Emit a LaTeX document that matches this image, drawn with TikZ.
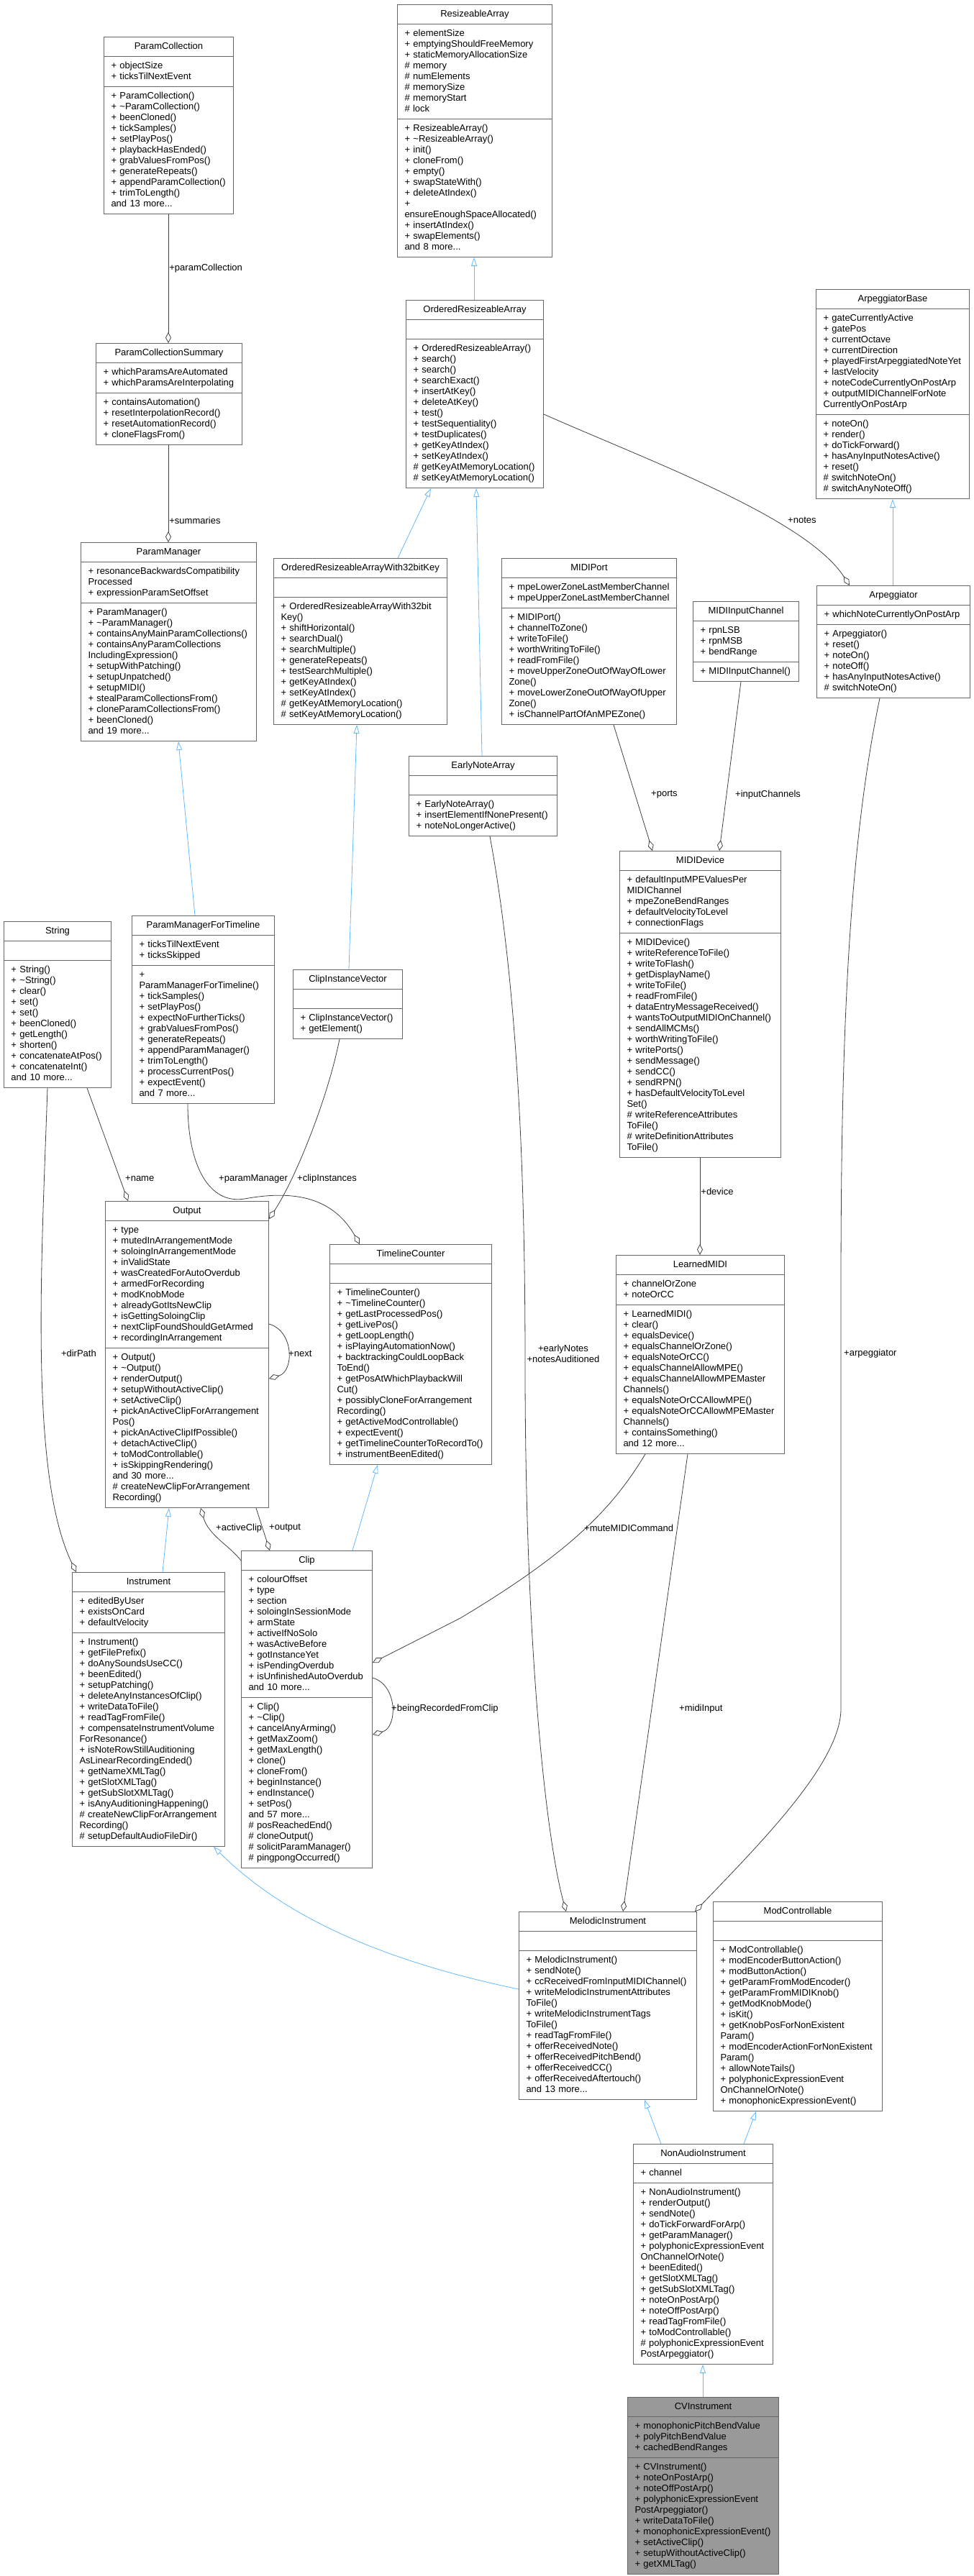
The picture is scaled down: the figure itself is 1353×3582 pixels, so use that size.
\documentclass[tikz,border=0pt]{standalone}
\usepackage{fontspec}
\setmainfont{Liberation Sans}
\usetikzlibrary{shapes.multipart,arrows.meta,calc}
\definecolor{edgeblue}{RGB}{99,184,255}
\definecolor{edgegray}{RGB}{64,64,64}
\definecolor{boxgray}{RGB}{102,102,102}
\definecolor{cvfill}{RGB}{153,153,153}
\tikzset{
  cbox/.style={rectangle split, rectangle split parts=3, draw=boxgray, line width=1pt,
    inner xsep=10pt, inner ysep=5.5pt, anchor=north west, fill=white,
    font=\fontsize{13}{15}\selectfont},
  agg/.style={draw=edgegray, line width=0.8pt, -{Diamond[open,length=15pt,width=8pt]}},
  inh/.style={draw=edgeblue, line width=0.8pt, -{Triangle[open,length=12pt,width=8pt]}},
  lbl/.style={font=\fontsize{13}{15}\selectfont, inner sep=1pt}
}
\newcommand\cls[7]{\node[cbox,text width={#3pt-20pt},#7] (#1) at (#2) {\centering\strut #4\strut\par\nodepart{two}\raggedright\strut #5\strut\par\nodepart{three}\raggedright\strut #6\strut\par};}
\newcommand\tl{\textasciitilde}
\begin{document}
\begin{tikzpicture}[x=1pt,y=-1pt]
\useasboundingbox (0,0) rectangle (1353,3582);
\cls{PC}{144,51}{180}{ParamCollection}{+ objectSize\\+ ticksTilNextEvent}{+ ParamCollection()\\+ \tl ParamCollection()\\+ beenCloned()\\+ tickSamples()\\+ setPlayPos()\\+ playbackHasEnded()\\+ grabValuesFromPos()\\+ generateRepeats()\\+ appendParamCollection()\\+ trimToLength()\\and 13 more...}{}
\cls{RA}{552,6}{215}{ResizeableArray}{+ elementSize\\+ emptyingShouldFreeMemory\\+ staticMemoryAllocationSize\\\# memory\\\# numElements\\\# memorySize\\\# memoryStart\\\# lock}{+ ResizeableArray()\\+ \tl ResizeableArray()\\+ init()\\+ cloneFrom()\\+ empty()\\+ swapStateWith()\\+ deleteAtIndex()\\+ ensureEnoughSpaceAllocated()\\+ insertAtIndex()\\+ swapElements()\\and 8 more...}{}
\cls{PCS}{133,477}{203}{ParamCollectionSummary}{+ whichParamsAreAutomated\\+ whichParamsAreInterpolating}{+ containsAutomation()\\+ resetInterpolationRecord()\\+ resetAutomationRecord()\\+ cloneFlagsFrom()}{}
\cls{ORA}{564,417}{191}{OrderedResizeableArray}{}{+ OrderedResizeableArray()\\+ search()\\+ search()\\+ searchExact()\\+ insertAtKey()\\+ deleteAtKey()\\+ test()\\+ testSequentiality()\\+ testDuplicates()\\+ getKeyAtIndex()\\+ setKeyAtIndex()\\\# getKeyAtMemoryLocation()\\\# setKeyAtMemoryLocation()}{}
\cls{AB}{1134,402}{213}{ArpeggiatorBase}{+ gateCurrentlyActive\\+ gatePos\\+ currentOctave\\+ currentDirection\\+ playedFirstArpeggiatedNoteYet\\+ lastVelocity\\+ noteCodeCurrentlyOnPostArp\\+ outputMIDIChannelForNote\\CurrentlyOnPostArp}{+ noteOn()\\+ render()\\+ doTickForward()\\+ hasAnyInputNotesActive()\\+ reset()\\\# switchNoteOn()\\\# switchAnyNoteOff()}{}
\cls{PM}{112,754}{244}{ParamManager}{+ resonanceBackwardsCompatibility\\Processed\\+ expressionParamSetOffset}{+ ParamManager()\\+ \tl ParamManager()\\+ containsAnyMainParamCollections()\\+ containsAnyParamCollections\\IncludingExpression()\\+ setupWithPatching()\\+ setupUnpatched()\\+ setupMIDI()\\+ stealParamCollectionsFrom()\\+ cloneParamCollectionsFrom()\\+ beenCloned()\\and 19 more...}{}
\cls{ORW}{380,776}{241}{OrderedResizeableArrayWith32bitKey}{}{+ OrderedResizeableArrayWith32bit\\Key()\\+ shiftHorizontal()\\+ searchDual()\\+ searchMultiple()\\+ generateRepeats()\\+ testSearchMultiple()\\+ getKeyAtIndex()\\+ setKeyAtIndex()\\\# getKeyAtMemoryLocation()\\\# setKeyAtMemoryLocation()}{}
\cls{MP}{697,776}{243}{MIDIPort}{+ mpeLowerZoneLastMemberChannel\\+ mpeUpperZoneLastMemberChannel}{+ MIDIPort()\\+ channelToZone()\\+ writeToFile()\\+ worthWritingToFile()\\+ readFromFile()\\+ moveUpperZoneOutOfWayOfLower\\Zone()\\+ moveLowerZoneOutOfWayOfUpper\\Zone()\\+ isChannelPartOfAnMPEZone()}{}
\cls{MIC}{963,836}{147}{MIDIInputChannel}{+ rpnLSB\\+ rpnMSB\\+ bendRange}{+ MIDIInputChannel()}{}
\cls{ARP}{1135,814}{213}{Arpeggiator}{+ whichNoteCurrentlyOnPostArp}{+ Arpeggiator()\\+ reset()\\+ noteOn()\\+ noteOff()\\+ hasAnyInputNotesActive()\\\# switchNoteOn()}{}
\cls{ENA}{568,1051}{206}{EarlyNoteArray}{}{+ EarlyNoteArray()\\+ insertElementIfNonePresent()\\+ noteNoLongerActive()}{}
\cls{MD}{861,1183}{224}{MIDIDevice}{+ defaultInputMPEValuesPer\\MIDIChannel\\+ mpeZoneBendRanges\\+ defaultVelocityToLevel\\+ connectionFlags}{+ MIDIDevice()\\+ writeReferenceToFile()\\+ writeToFlash()\\+ getDisplayName()\\+ writeToFile()\\+ readFromFile()\\+ dataEntryMessageReceived()\\+ wantsToOutputMIDIOnChannel()\\+ sendAllMCMs()\\+ worthWritingToFile()\\+ writePorts()\\+ sendMessage()\\+ sendCC()\\+ sendRPN()\\+ hasDefaultVelocityToLevel\\Set()\\\# writeReferenceAttributes\\ToFile()\\\# writeDefinitionAttributes\\ToFile()}{}
\cls{STR}{5,1281}{149}{String}{}{+ String()\\+ \tl String()\\+ clear()\\+ set()\\+ set()\\+ beenCloned()\\+ getLength()\\+ shorten()\\+ concatenateAtPos()\\+ concatenateInt()\\and 10 more...}{}
\cls{PMT}{183,1273}{198}{ParamManagerForTimeline}{+ ticksTilNextEvent\\+ ticksSkipped}{+ ParamManagerForTimeline()\\+ tickSamples()\\+ setPlayPos()\\+ expectNoFurtherTicks()\\+ grabValuesFromPos()\\+ generateRepeats()\\+ appendParamManager()\\+ trimToLength()\\+ processCurrentPos()\\+ expectEvent()\\and 7 more...}{}
\cls{CIV}{407,1348}{152}{ClipInstanceVector}{}{+ ClipInstanceVector()\\+ getElement()}{}
\cls{OUT}{146,1670}{227}{Output}{+ type\\+ mutedInArrangementMode\\+ soloingInArrangementMode\\+ inValidState\\+ wasCreatedForAutoOverdub\\+ armedForRecording\\+ modKnobMode\\+ alreadyGotItsNewClip\\+ isGettingSoloingClip\\+ nextClipFoundShouldGetArmed\\+ recordingInArrangement}{+ Output()\\+ \tl Output()\\+ renderOutput()\\+ setupWithoutActiveClip()\\+ setActiveClip()\\+ pickAnActiveClipForArrangement\\Pos()\\+ pickAnActiveClipIfPossible()\\+ detachActiveClip()\\+ toModControllable()\\+ isSkippingRendering()\\and 30 more...\\\# createNewClipForArrangement\\Recording()}{}
\cls{TC}{458,1730}{225}{TimelineCounter}{}{+ TimelineCounter()\\+ \tl TimelineCounter()\\+ getLastProcessedPos()\\+ getLivePos()\\+ getLoopLength()\\+ isPlayingAutomationNow()\\+ backtrackingCouldLoopBack\\ToEnd()\\+ getPosAtWhichPlaybackWill\\Cut()\\+ possiblyCloneForArrangement\\Recording()\\+ getActiveModControllable()\\+ expectEvent()\\+ getTimelineCounterToRecordTo()\\+ instrumentBeenEdited()}{}
\cls{LM}{856,1745}{234}{LearnedMIDI}{+ channelOrZone\\+ noteOrCC}{+ LearnedMIDI()\\+ clear()\\+ equalsDevice()\\+ equalsChannelOrZone()\\+ equalsNoteOrCC()\\+ equalsChannelAllowMPE()\\+ equalsChannelAllowMPEMaster\\Channels()\\+ equalsNoteOrCCAllowMPE()\\+ equalsNoteOrCCAllowMPEMaster\\Channels()\\+ containsSomething()\\and 12 more...}{}
\cls{CLIP}{335,2156}{182}{Clip}{+ colourOffset\\+ type\\+ section\\+ soloingInSessionMode\\+ armState\\+ activeIfNoSolo\\+ wasActiveBefore\\+ gotInstanceYet\\+ isPendingOverdub\\+ isUnfinishedAutoOverdub\\and 10 more...}{+ Clip()\\+ \tl Clip()\\+ cancelAnyArming()\\+ getMaxZoom()\\+ getMaxLength()\\+ clone()\\+ cloneFrom()\\+ beginInstance()\\+ endInstance()\\+ setPos()\\and 57 more...\\\# posReachedEnd()\\\# cloneOutput()\\\# solicitParamManager()\\\# pingpongOccurred()}{}
\cls{INS}{100,2186}{212}{Instrument}{+ editedByUser\\+ existsOnCard\\+ defaultVelocity}{+ Instrument()\\+ getFilePrefix()\\+ doAnySoundsUseCC()\\+ beenEdited()\\+ setupPatching()\\+ deleteAnyInstancesOfClip()\\+ writeDataToFile()\\+ readTagFromFile()\\+ compensateInstrumentVolume\\ForResonance()\\+ isNoteRowStillAuditioning\\AsLinearRecordingEnded()\\+ getNameXMLTag()\\+ getSlotXMLTag()\\+ getSubSlotXMLTag()\\+ isAnyAuditioningHappening()\\\# createNewClipForArrangement\\Recording()\\\# setupDefaultAudioFileDir()}{}
\cls{MC}{991,2644}{235}{ModControllable}{}{+ ModControllable()\\+ modEncoderButtonAction()\\+ modButtonAction()\\+ getParamFromModEncoder()\\+ getParamFromMIDIKnob()\\+ getModKnobMode()\\+ isKit()\\+ getKnobPosForNonExistent\\Param()\\+ modEncoderActionForNonExistent\\Param()\\+ allowNoteTails()\\+ polyphonicExpressionEvent\\OnChannelOrNote()\\+ monophonicExpressionEvent()}{}
\cls{MI}{721,2658}{247}{MelodicInstrument}{}{+ MelodicInstrument()\\+ sendNote()\\+ ccReceivedFromInputMIDIChannel()\\+ writeMelodicInstrumentAttributes\\ToFile()\\+ writeMelodicInstrumentTags\\ToFile()\\+ readTagFromFile()\\+ offerReceivedNote()\\+ offerReceivedPitchBend()\\+ offerReceivedCC()\\+ offerReceivedAftertouch()\\and 13 more...}{}
\cls{NAI}{880,2981}{194}{NonAudioInstrument}{+ channel}{+ NonAudioInstrument()\\+ renderOutput()\\+ sendNote()\\+ doTickForwardForArp()\\+ getParamManager()\\+ polyphonicExpressionEvent\\OnChannelOrNote()\\+ beenEdited()\\+ getSlotXMLTag()\\+ getSubSlotXMLTag()\\+ noteOnPostArp()\\+ noteOffPostArp()\\+ readTagFromFile()\\+ toModControllable()\\\# polyphonicExpressionEvent\\PostArpeggiator()}{}
\cls{CV}{872,3333}{210}{CVInstrument}{+ monophonicPitchBendValue\\+ polyPitchBendValue\\+ cachedBendRanges}{+ CVInstrument()\\+ noteOnPostArp()\\+ noteOffPostArp()\\+ polyphonicExpressionEvent\\PostArpeggiator()\\+ writeDataToFile()\\+ monophonicExpressionEvent()\\+ setActiveClip()\\+ setupWithoutActiveClip()\\+ getXMLTag()}{fill=cvfill}

% inheritance
\draw[inh] ($(ORA.north west)+(95,0)$) -- ($(RA.south west)+(107,0)$);
\draw[inh] ($(ORW.north west)+(173,0)$) -- ($(ORA.south west)+(35,0)$);
\draw[inh] ($(ENA.north west)+(102,0)$) -- ($(ORA.south west)+(98,0)$);
\draw[inh] ($(CIV.north west)+(78,0)$) -- ($(ORW.south west)+(116,0)$);
\draw[inh] ($(PMT.north west)+(88,0)$) -- ($(PM.south west)+(136,0)$);
\draw[inh] ($(ARP.north west)+(106,0)$) -- ($(AB.south west)+(107,0)$);
\draw[inh] ($(INS.north west)+(126,0)$) -- ($(OUT.south west)+(89,0)$);
\draw[inh] ($(CLIP.north west)+(155,0)$) -- ($(TC.south west)+(67,0)$);
\draw[inh] ($(MI.north west)+(0,108)$) .. controls (500,2720) and (380,2650) .. ($(INS.south west)+(197,0)$);
\draw[inh] ($(NAI.north west)+(39,0)$) -- ($(MI.south west)+(175,0)$);
\draw[inh] ($(NAI.north west)+(154,0)$) -- ($(MC.south west)+(60,0)$);
\draw[inh] ($(CV.north west)+(105,0)$) -- ($(NAI.south west)+(97,0)$);

% aggregation
\draw[agg] ($(PC.south west)+(90,0)$) -- node[lbl,right,pos=0.42]{+paramCollection} ($(PCS.north west)+(101,0)$);
\draw[agg] ($(PCS.south west)+(101,0)$) -- node[lbl,right,pos=0.78]{+summaries} ($(PM.north west)+(122,0)$);
\draw[agg] ($(ORA.north east)+(0,159)$) .. controls (900,640) and (1120,720) .. ($(ARP.north west)+(46,0)$);
\node[lbl,anchor=west] (Lnotes) at (1094,723) {+notes};
\draw[agg] ($(MP.south west)+(156,0)$) -- ($(MD.north west)+(46,0)$);
\node[lbl,anchor=west] (Lports) at (904,1105) {+ports};
\draw[agg] ($(MIC.south west)+(67,0)$) -- ($(MD.north west)+(139,0)$);
\node[lbl,anchor=west] (Linp) at (1021,1105) {+inputChannels};
\draw[agg] ($(MD.south west)+(112,0)$) -- node[lbl,right,pos=0.35]{+device} ($(LM.north west)+(117,0)$);
\draw[agg] ($(STR.south west)+(116,0)$) -- ($(OUT.north west)+(32,0)$);
\node[lbl,anchor=west] (Lname) at (173,1639) {+name};
\draw[agg] ($(STR.south west)+(61,0)$) .. controls (58,1750) and (40,2050) .. ($(INS.north west)+(6,0)$);
\node[lbl,anchor=east] (Ldir) at (135,1882) {+dirPath};
\draw[agg] ($(PMT.south west)+(78,0)$) .. controls (261,1620) and (290,1675) .. (340,1667) .. controls (400,1656) and (460,1660) .. ($(TC.north west)+(42,0)$);
\node[lbl,anchor=west] (Lpm) at (303,1639) {+paramManager};
\draw[agg] ($(CIV.south west)+(65,0)$) .. controls (455,1530) and (410,1640) .. ($(OUT.north east)+(0,25)$);
\node[lbl,anchor=west] (Lci) at (412,1639) {+clipInstances};
\draw[agg] ($(OUT.north east)+(0,171)$) .. controls +(35,10) and +(35,-10) .. ($(OUT.north east)+(0,247)$);
\node[lbl,anchor=west] (Lnext) at (400,1882) {+next};
\draw[agg] ($(CLIP.north west)+(0,14)$) .. controls (320,2150) and (290,2135) .. ($(OUT.south west)+(133,0)$);
\node[lbl,anchor=west] (Lac) at (299,2125) {+activeClip};
\draw[agg] ($(OUT.south west)+(210,0)$) -- ($(CLIP.north west)+(40,0)$);
\node[lbl,anchor=west] (Lout) at (373,2125) {+output};
\draw[agg] ($(CLIP.north east)+(0,177)$) .. controls +(35,10) and +(35,-10) .. ($(CLIP.north east)+(0,256)$);
\node[lbl,anchor=west] (Lbr) at (543,2376) {+beingRecordedFromClip};
\draw[agg] ($(LM.south west)+(41,0)$) .. controls (850,2100) and (790,2160) .. (640,2250) -- ($(CLIP.north east)+(0,156)$);
\node[lbl,anchor=west] (Lmute) at (811,2125) {+muteMIDICommand};
\draw[agg] ($(LM.south west)+(100,0)$) -- ($(MI.north west)+(145,0)$);
\node[lbl,anchor=west] (Lmidi) at (943,2376) {+midiInput};
\draw[agg] ($(ENA.south west)+(113,0)$) .. controls (725,1400) and (730,1700) .. (730,1900) .. controls (730,2300) and (760,2560) .. ($(MI.north west)+(66,0)$);
\node[lbl,align=center] (Learly) at (783,1882) {+earlyNotes\\+notesAuditioned};
\draw[agg] ($(ARP.south west)+(88,0)$) .. controls (1175,1200) and (1169,1500) .. (1169,1800) -- (1169,2376) .. controls (1169,2450) and (1060,2560) .. ($(MI.north east)+(-3,0)$);
\node[lbl,anchor=west] (Larp) at (1172,1882) {+arpeggiator};
\end{tikzpicture}
\end{document}
